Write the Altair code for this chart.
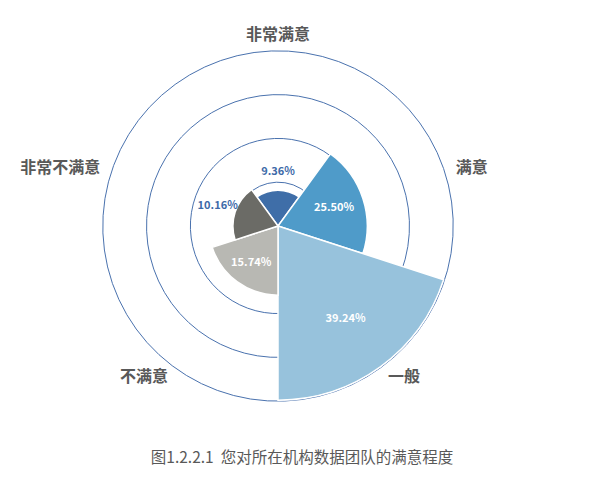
import math
import altair as alt
import pandas as pd

# Data
categories = ["非常满意", "满意", "一般", "不满意", "非常不满意"]
shares = [9.36, 25.50, 39.24, 15.74, 10.16]          # printed percentages
drawn = [8.2, 20.4, 39.8, 15.8, 10.3]                 # wedge radius as drawn (in % on ring scale)
colors = ["#3f6ea8", "#4f9bc9", "#97c2dc", "#b8b8b3", "#6b6b66"]
rings = [10, 20, 30, 40]
title_text = "图1.2.2.1\u00a0\u00a0您对所在机构数据团队的满意程度"

FONT = "Noto Sans CJK SC"

df = pd.DataFrame({
    "cat": categories,
    "share": shares,
    "drawn": drawn,
    "idx": list(range(len(categories))),
})
df["label"] = [f"{v:.2f}%" for v in shares]
ring_df = pd.DataFrame({"ring": rings})

theta_scale = alt.Scale(domain=[0, 5], range=[9 * math.pi / 5, 19 * math.pi / 5])
r_scale = alt.Scale(type="linear", domain=[0, 40], range=[0, 175], zero=True)

base = alt.Chart(df).transform_calculate(
    start="datum.idx",
    end="datum.idx + 1",
    mid="datum.idx + 0.5",
    lr="datum.drawn < 12 ? datum.drawn + 4.2 : datum.drawn * 0.66",
)

ring_layer = alt.Chart(ring_df).transform_calculate(t0="0", t1="5").mark_arc(
    filled=False, stroke="#4a72ae", strokeWidth=1
).encode(
    theta=alt.Theta("t0:Q", stack=None, scale=theta_scale),
    theta2="t1:Q",
    radius=alt.Radius("ring:Q", scale=r_scale),
)

slices = base.mark_arc(stroke="white", strokeWidth=1.5).encode(
    theta=alt.Theta("start:Q", stack=None, scale=theta_scale),
    theta2="end:Q",
    radius=alt.Radius("drawn:Q", scale=r_scale),
    color=alt.Color("cat:N", scale=alt.Scale(domain=categories, range=colors), legend=None),
)

pct = base.mark_text(font=FONT, fontSize=11, fontWeight="bold", baseline="middle").encode(
    theta=alt.Theta("mid:Q", stack=None, scale=theta_scale),
    radius=alt.Radius("lr:Q", scale=r_scale),
    text="label:N",
    color=alt.condition("datum.drawn < 12", alt.value("#3d6aa8"), alt.value("white")),
)

def cat_layer(filt, align, radius):
    return base.transform_filter(filt).mark_text(
        radius=radius, align=align, baseline="middle", font=FONT,
        fontSize=16, fontWeight="bold", color="#595959",
    ).encode(
        theta=alt.Theta("mid:Q", stack=None, scale=theta_scale),
        text="cat:N",
    )

cat_top = cat_layer("datum.idx == 0", "center", 191)
cat_right = cat_layer("datum.idx == 1 || datum.idx == 2", "left", 187)
cat_left = cat_layer("datum.idx == 3 || datum.idx == 4", "right", 187)

chart = alt.layer(ring_layer, slices, pct, cat_top, cat_right, cat_left).properties(
    width=540,
    height=436,
    padding=0,
    title=alt.TitleParams(
        title_text, orient="bottom", dx=24, offset=7, font=FONT,
        fontSize=15.5, fontWeight="normal", color="#595959",
    ),
).configure_view(stroke=None)

chart.save("out.html", embed_options={"renderer": "svg", "actions": False})
